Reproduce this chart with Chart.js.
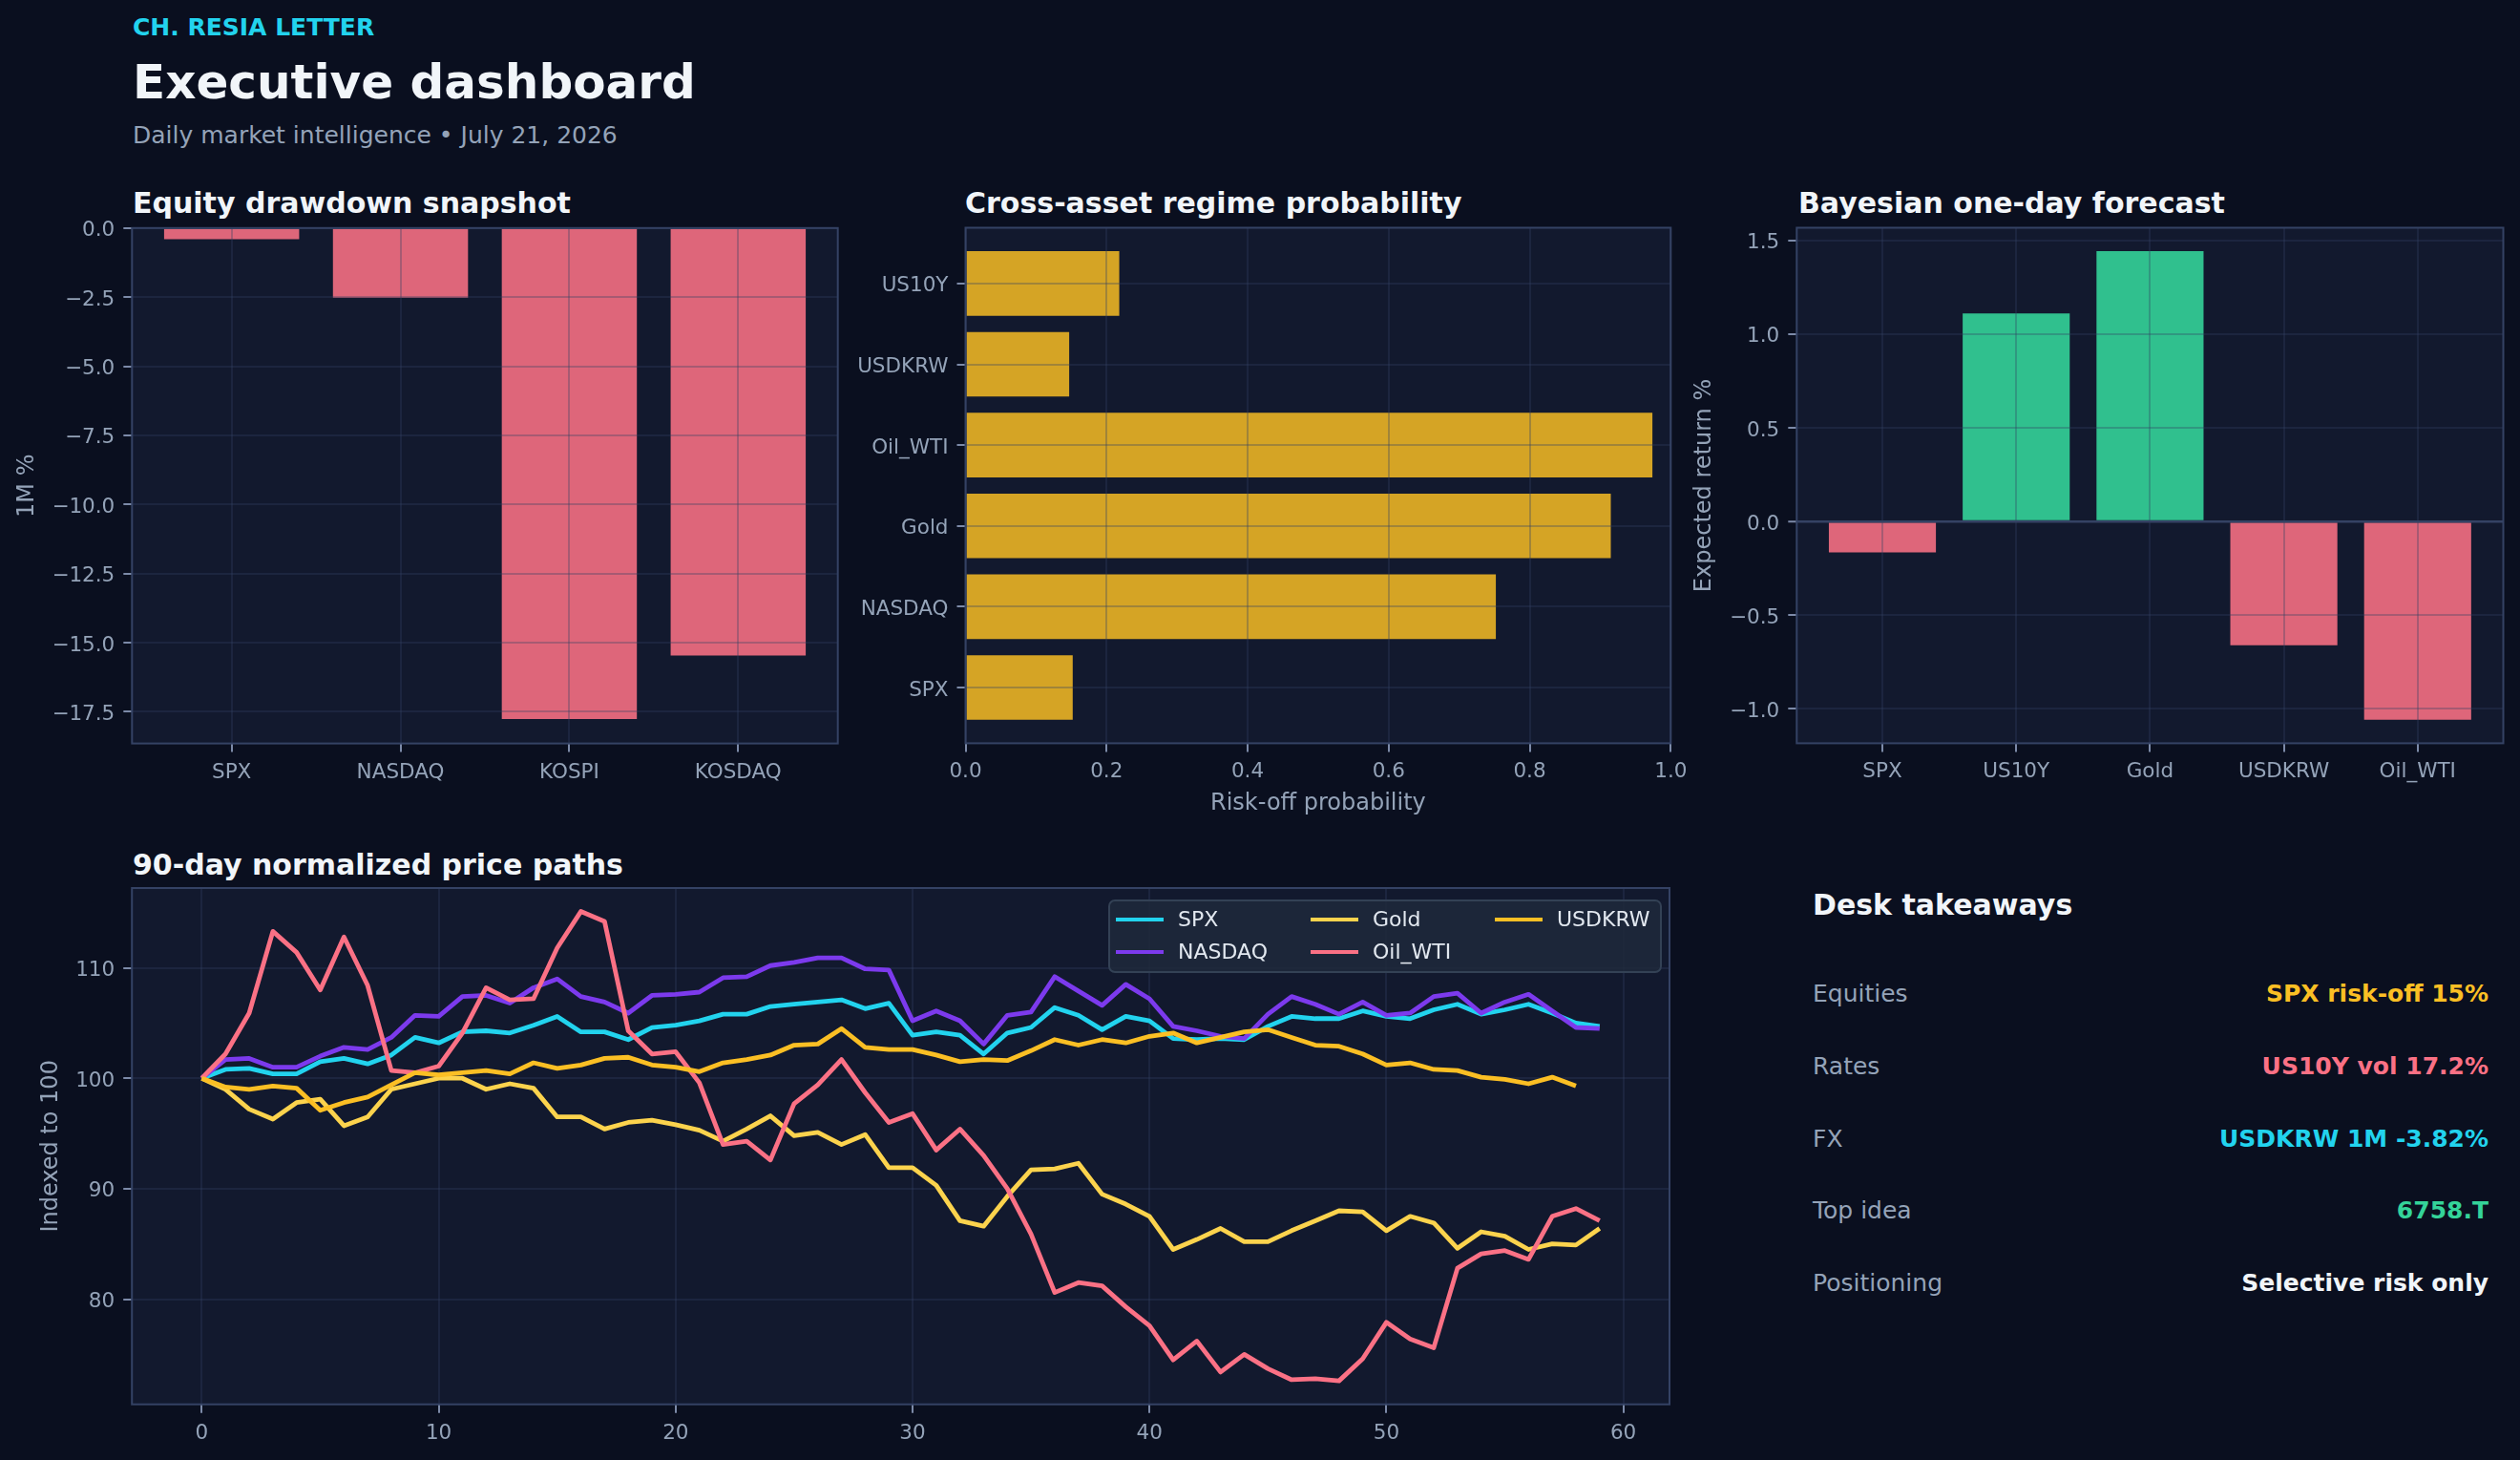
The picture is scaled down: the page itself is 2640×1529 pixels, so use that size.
<!DOCTYPE html>
<html>
<head>
<meta charset="utf-8">
<title>Executive dashboard</title>
<script src="https://cdn.jsdelivr.net/npm/chart.js@4.4.1/dist/chart.umd.min.js"></script>
<style>
    html, body { margin: 0; padding: 0; }
    body {
        width: 2640px; height: 1529px; overflow: hidden; position: relative;
        background: #0a0f1f; font-family: 'DejaVu Sans', sans-serif;
    }
    .txt { position: absolute; line-height: 1; white-space: nowrap; }
    .kicker { font-size: 25px; font-weight: bold; color: #22d3ee; }
    .headline { font-size: 50px; font-weight: bold; color: #f1f5f9; }
    .sub { font-size: 25px; color: #94a3b8; }
    .panel-title { font-size: 30px; font-weight: bold; color: #f1f5f9; }
    .row-label { font-size: 25px; color: #94a3b8; }
    .row-value { font-size: 25px; font-weight: bold; text-align: right; }
    canvas { position: absolute; }
    #pathLegend {
        position: absolute; left: 1161px; top: 942px; width: 576px; height: 73px;
        background: rgba(30, 41, 59, 0.85); border: 2px solid #334155; border-radius: 7px;
    }
    .leg-item { position: absolute; height: 24px; }
    .leg-line { position: absolute; top: 10px; left: 0; width: 50px; height: 4px; }
    .leg-text { position: absolute; left: 65px; top: 1px; font-size: 22px; line-height: 1; color: #e2e8f0; white-space: nowrap; }
</style>
</head>
<body>

<div class="txt kicker" style="left:139px; top:16px;">CH. RESIA LETTER</div>
<div class="txt headline" style="left:139px; top:61px;">Executive dashboard</div>
<div class="txt sub" style="left:139px; top:129px;">Daily market intelligence • July 21, 2026</div>

<div class="txt panel-title" style="left:139px; top:198px;">Equity drawdown snapshot</div>
<div class="txt panel-title" style="left:1011px; top:198px;">Cross-asset regime probability</div>
<div class="txt panel-title" style="left:1884px; top:198px;">Bayesian one-day forecast</div>
<div class="txt panel-title" style="left:139px; top:891px;">90-day normalized price paths</div>

<canvas id="drawdownChart" width="900" height="640" style="left:0; top:230px;"></canvas>
<canvas id="regimeChart" width="900" height="640" style="left:880px; top:230px;"></canvas>
<canvas id="forecastChart" width="880" height="640" style="left:1760px; top:230px;"></canvas>
<canvas id="pathsChart" width="1780" height="649" style="left:0; top:880px;"></canvas>
<div id="pathLegend"></div>

<div id="takeaways"></div>

<script>
// Equity drawdown (1M %)
const equityNames = ['SPX', 'NASDAQ', 'KOSPI', 'KOSDAQ'];
const equityDrawdown = [-0.40, -2.52, -17.76, -15.47];
const drawdownTicks = [0, -2.5, -5, -7.5, -10, -12.5, -15, -17.5];

// Risk-off probability, bottom to top
const regimeAssets = ['SPX', 'NASDAQ', 'Gold', 'Oil_WTI', 'USDKRW', 'US10Y'];
const riskOffProb = [0.152, 0.752, 0.915, 0.974, 0.147, 0.218];
const probTicks = [0, 0.2, 0.4, 0.6, 0.8, 1.0];

// Bayesian one-day forecast (expected return %)
const forecastAssets = ['SPX', 'US10Y', 'Gold', 'USDKRW', 'Oil_WTI'];
const forecastReturn = [-0.166, 1.11, 1.443, -0.662, -1.06];
const forecastTicks = [-1.0, -0.5, 0, 0.5, 1.0, 1.5];

// 90-day normalized price paths (indexed to 100)
const pathNames = ['SPX', 'NASDAQ', 'Gold', 'Oil_WTI', 'USDKRW'];
const spxPath = [100, 100.8, 100.9, 100.4, 100.4, 101.5, 101.8, 101.3, 102.1, 103.7,
    103.2, 104.2, 104.3, 104.1, 104.8, 105.6, 104.2, 104.2, 103.5, 104.6,
    104.8, 105.2, 105.8, 105.8, 106.5, 106.7, 106.9, 107.1, 106.3, 106.8,
    103.9, 104.2, 103.9, 102.2, 104.1, 104.6, 106.4, 105.7, 104.4, 105.6,
    105.2, 103.6, 103.5, 103.6, 103.5, 104.7, 105.6, 105.4, 105.4, 106.1,
    105.6, 105.4, 106.2, 106.7, 105.8, 106.2, 106.7, 105.9, 105.0, 104.7];
const nasdaqPath = [100, 101.7, 101.8, 101.0, 101.0, 102.0, 102.8, 102.6, 103.7, 105.7,
    105.6, 107.4, 107.5, 106.8, 108.2, 109.0, 107.4, 106.9, 105.9, 107.5,
    107.6, 107.8, 109.1, 109.2, 110.2, 110.5, 110.9, 110.9, 109.9, 109.8,
    105.2, 106.1, 105.2, 103.1, 105.7, 106.0, 109.2, 107.9, 106.6, 108.5,
    107.2, 104.7, 104.3, 103.8, 103.6, 105.8, 107.4, 106.7, 105.8, 106.9,
    105.7, 105.9, 107.4, 107.7, 105.9, 106.9, 107.6, 106.1, 104.6, 104.5];
const goldPath = [100, 99.0, 97.2, 96.3, 97.8, 98.1, 95.7, 96.5, 99.0, 99.5,
    100.0, 100.0, 99.0, 99.5, 99.1, 96.5, 96.5, 95.4, 96.0, 96.2,
    95.8, 95.3, 94.3, 95.4, 96.6, 94.8, 95.1, 94.0, 94.9, 91.9,
    91.9, 90.3, 87.1, 86.6, 89.3, 91.7, 91.8, 92.3, 89.5, 88.6,
    87.5, 84.5, 85.4, 86.4, 85.2, 85.2, 86.2, 87.1, 88.0, 87.9,
    86.2, 87.5, 86.9, 84.6, 86.1, 85.7, 84.5, 85.0, 84.9, 86.4];
const oilPath = [100, 102.2, 105.9, 113.3, 111.4, 108.0, 112.8, 108.4, 100.7, 100.5,
    101.1, 104.1, 108.2, 107.1, 107.2, 111.8, 115.1, 114.2, 104.3, 102.2,
    102.4, 99.6, 94.0, 94.3, 92.6, 97.7, 99.4, 101.7, 98.7, 96.0,
    96.8, 93.5, 95.4, 93.0, 90.0, 85.9, 80.6, 81.5, 81.2, 79.3,
    77.6, 74.5, 76.2, 73.4, 75.0, 73.7, 72.7, 72.8, 72.6, 74.6,
    77.9, 76.4, 75.6, 82.8, 84.1, 84.4, 83.6, 87.5, 88.2, 87.1];
const usdkrwPath = [100, 99.2, 99.0, 99.3, 99.1, 97.1, 97.8, 98.3, 99.4, 100.5,
    100.3, 100.5, 100.7, 100.4, 101.4, 100.9, 101.2, 101.8, 101.9, 101.2,
    101.0, 100.6, 101.4, 101.7, 102.1, 103.0, 103.1, 104.5, 102.8, 102.6,
    102.6, 102.1, 101.5, 101.7, 101.6, 102.5, 103.5, 103.0, 103.5, 103.2,
    103.8, 104.1, 103.2, 103.7, 104.2, 104.4, 103.7, 103.0, 102.9, 102.2,
    101.2, 101.4, 100.8, 100.7, 100.1, 99.9, 99.5, 100.1, 99.3];
const pathTicksX = [0, 10, 20, 30, 40, 50, 60];
const pathTicksY = [80, 90, 100, 110];

// Desk takeaways
const takeawayLabels = ['Equities', 'Rates', 'FX', 'Top idea', 'Positioning'];
const takeawayValues = ['SPX risk-off 15%', 'US10Y vol 17.2%', 'USDKRW 1M -3.82%', '6758.T', 'Selective risk only'];

const PLOT_BG = '#12192e';
const SPINE = '#344264';
const GRID = 'rgba(51, 66, 99, 0.32)';
const TICK_MARK = '#7c8aa8';
const TEXT_MUTED = '#94a3b8';
const RED = 'rgba(251, 113, 133, 0.88)';
const GREEN = 'rgba(52, 211, 153, 0.9)';
const AMBER = 'rgba(251, 191, 36, 0.84)';
const pathColors = ['#22d3ee', '#7c3aed', '#fcd34d', '#fb7185', '#fbbf24'];
const takeawayColors = ['#fbbf24', '#fb7185', '#22d3ee', '#34d399', '#f1f5f9'];

Chart.defaults.font.family = "'DejaVu Sans', sans-serif";
Chart.defaults.color = TEXT_MUTED;
Chart.defaults.animation = false;

document.addEventListener('DOMContentLoaded', function () {
    initDrawdownChart();
    initRegimeChart();
    initForecastChart();
    initPathsChart();
    buildLegend();
    buildTakeaways();
});

// fill the plot area and draw the four spines like matplotlib
const plotFrame = {
    id: 'plotFrame',
    beforeDraw(chart) {
        const { ctx, chartArea: a } = chart;
        ctx.save();
        ctx.fillStyle = PLOT_BG;
        ctx.fillRect(a.left, a.top, a.right - a.left, a.bottom - a.top);
        ctx.restore();
    },
    afterDraw(chart) {
        const { ctx, chartArea: a } = chart;
        ctx.save();
        ctx.strokeStyle = SPINE;
        ctx.lineWidth = 2;
        ctx.strokeRect(a.left, a.top, a.right - a.left, a.bottom - a.top);
        ctx.restore();
    }
};

function fmtMinus(v, digits) {
    return v.toFixed(digits).replace('-', '\u2212');
}

// matplotlib style limits for bars: zero is sticky, 5% margin elsewhere
function valueLimits(values) {
    const lo = Math.min(0, ...values);
    const hi = Math.max(0, ...values);
    const span = hi - lo;
    return { min: lo === 0 ? 0 : lo - 0.05 * span, max: hi === 0 ? 0 : hi + 0.05 * span };
}

function indexLimits(n) {
    const span = (n - 1) + 0.8;
    return { min: -0.4 - 0.05 * span, max: n - 1 + 0.4 + 0.05 * span };
}

function padLimits(lo, hi) {
    const span = hi - lo;
    return { min: lo - 0.05 * span, max: hi + 0.05 * span };
}

function axisBase(ticks, size, labelFn, horizontal) {
    return {
        type: 'linear',
        offset: false,
        afterBuildTicks: (scale) => { scale.ticks = ticks.map(v => ({ value: v })); },
        afterFit: (scale) => {
            if (scale.isHorizontal()) scale.height = size; else scale.width = size;
            // labels may overhang the plot, keep the plot box where it is
            scale.paddingTop = 0;
            scale.paddingBottom = 0;
            scale.paddingLeft = 0;
            scale.paddingRight = 0;
        },
        border: { display: false },
        grid: {
            offset: false,
            color: GRID,
            lineWidth: 2,
            drawTicks: true,
            tickLength: 9,
            tickColor: TICK_MARK,
            tickWidth: 2
        },
        ticks: {
            autoSkip: false,
            maxRotation: 0,
            minRotation: 0,
            padding: horizontal ? 8.5 : 9,
            labelOffset: horizontal ? 0 : 3,
            color: TEXT_MUTED,
            font: { size: 21.5 },
            callback: labelFn
        }
    };
}

function axisTitle(text, pad) {
    return { display: true, text: text, color: TEXT_MUTED, font: { size: 24 }, padding: pad };
}

function initDrawdownChart() {
    const ctx = document.getElementById('drawdownChart');
    const x = axisBase(equityNames.map((_, i) => i), 91.4, (v) => equityNames[v], true);
    Object.assign(x, indexLimits(equityNames.length));
    x.grid.z = 1;
    const y = axisBase(drawdownTicks, 138.3, (v) => fmtMinus(v, 1), false);
    Object.assign(y, valueLimits(equityDrawdown));
    y.grid.z = 1;
    y.title = axisTitle('1M %', { top: 14, bottom: 0 });

    new Chart(ctx, {
        type: 'bar',
        data: {
            datasets: [{
                data: equityDrawdown.map((v, i) => ({ x: i, y: v })),
                backgroundColor: RED,
                barPercentage: 0.8,
                categoryPercentage: 1.0
            }]
        },
        options: {
            responsive: false,
            devicePixelRatio: 1,
            layout: { padding: { left: 0, right: 22.3, top: 8.8, bottom: 0 } },
            plugins: { legend: { display: false }, tooltip: { enabled: false } },
            scales: { x: x, y: y }
        },
        plugins: [plotFrame]
    });
}

function initRegimeChart() {
    const ctx = document.getElementById('regimeChart');
    const x = axisBase(probTicks, 91.6, (v) => v.toFixed(1), true);
    x.min = 0;
    x.max = 1;
    x.grid.z = 1;
    x.title = axisTitle('Risk-off probability', { top: 0, bottom: 14 });
    const y = axisBase(regimeAssets.map((_, i) => i), 131.5, (v) => regimeAssets[v], false);
    Object.assign(y, indexLimits(regimeAssets.length));
    y.grid.z = 1;

    new Chart(ctx, {
        type: 'bar',
        data: {
            datasets: [{
                data: riskOffProb.map((v, i) => ({ x: v, y: i })),
                backgroundColor: AMBER,
                barPercentage: 0.8,
                categoryPercentage: 1.0
            }]
        },
        options: {
            indexAxis: 'y',
            responsive: false,
            devicePixelRatio: 1,
            layout: { padding: { left: 0, right: 29.7, top: 8.5, bottom: 0 } },
            plugins: { legend: { display: false }, tooltip: { enabled: false } },
            scales: { x: x, y: y }
        },
        plugins: [plotFrame]
    });
}

function initForecastChart() {
    const ctx = document.getElementById('forecastChart');
    const x = axisBase(forecastAssets.map((_, i) => i), 91.6, (v) => forecastAssets[v], true);
    Object.assign(x, indexLimits(forecastAssets.length));
    x.grid.z = 1;
    const y = axisBase(forecastTicks, 122.3, (v) => fmtMinus(v, 1), false);
    Object.assign(y, valueLimits(forecastReturn));
    y.grid.z = 1;
    // zero line sits on top of the bars
    y.grid.color = (c) => (c.tick && c.tick.value === 0 ? SPINE : GRID);
    y.grid.lineWidth = (c) => (c.tick && c.tick.value === 0 ? 2.5 : 2);
    y.title = axisTitle('Expected return %', { top: 11, bottom: 0 });

    new Chart(ctx, {
        type: 'bar',
        data: {
            datasets: [{
                data: forecastReturn.map((v, i) => ({ x: i, y: v })),
                backgroundColor: forecastReturn.map(v => (v >= 0 ? GREEN : RED)),
                barPercentage: 0.8,
                categoryPercentage: 1.0
            }]
        },
        options: {
            responsive: false,
            devicePixelRatio: 1,
            layout: { padding: { left: 0, right: 17.5, top: 8.5, bottom: 0 } },
            plugins: { legend: { display: false }, tooltip: { enabled: false } },
            scales: { x: x, y: y }
        },
        plugins: [plotFrame]
    });
}

function initPathsChart() {
    const ctx = document.getElementById('pathsChart');
    const paths = [spxPath, nasdaqPath, goldPath, oilPath, usdkrwPath];
    const allValues = [].concat(...paths);
    const longest = Math.max(...paths.map(p => p.length)) - 1;

    const x = axisBase(pathTicksX, 58.3, (v) => String(v), true);
    Object.assign(x, padLimits(0, longest));
    const y = axisBase(pathTicksY, 138.2, (v) => String(v), false);
    Object.assign(y, padLimits(Math.min(...allValues), Math.max(...allValues)));
    y.title = axisTitle('Indexed to 100', { top: 39.6, bottom: 0 });

    new Chart(ctx, {
        type: 'line',
        data: {
            datasets: pathNames.map((name, k) => ({
                label: name,
                data: paths[k].map((v, i) => ({ x: i, y: v })),
                borderColor: pathColors[k],
                borderWidth: 4.8,
                borderJoinStyle: 'round',
                pointRadius: 0,
                tension: 0,
                fill: false,
                order: pathNames.length - k
            }))
        },
        options: {
            responsive: false,
            devicePixelRatio: 1,
            layout: { padding: { left: 0, right: 31, top: 50, bottom: 0 } },
            plugins: { legend: { display: false }, tooltip: { enabled: false } },
            scales: { x: x, y: y }
        },
        plugins: [plotFrame]
    });
}

function buildLegend() {
    const box = document.getElementById('pathLegend');
    const colX = [6, 210, 403];
    pathNames.forEach((name, k) => {
        const item = document.createElement('div');
        item.className = 'leg-item';
        item.style.left = colX[Math.floor(k / 2)] + 'px';
        item.style.top = (7 + (k % 2) * 34) + 'px';
        item.innerHTML = '<div class="leg-line" style="background:' + pathColors[k] + '"></div>' +
            '<div class="leg-text">' + name + '</div>';
        box.appendChild(item);
    });
}

function buildTakeaways() {
    const wrap = document.getElementById('takeaways');
    const title = document.createElement('div');
    title.className = 'txt panel-title';
    title.style.left = '1899px';
    title.style.top = '933px';
    title.textContent = 'Desk takeaways';
    wrap.appendChild(title);

    takeawayLabels.forEach((label, i) => {
        const top = 1028 + i * 75.8;
        const l = document.createElement('div');
        l.className = 'txt row-label';
        l.style.left = '1899px';
        l.style.top = top + 'px';
        l.textContent = label;
        const v = document.createElement('div');
        v.className = 'txt row-value';
        v.style.right = '33px';
        v.style.top = top + 'px';
        v.style.color = takeawayColors[i];
        v.textContent = takeawayValues[i];
        wrap.appendChild(l);
        wrap.appendChild(v);
    });
}
</script>
</body>
</html>
